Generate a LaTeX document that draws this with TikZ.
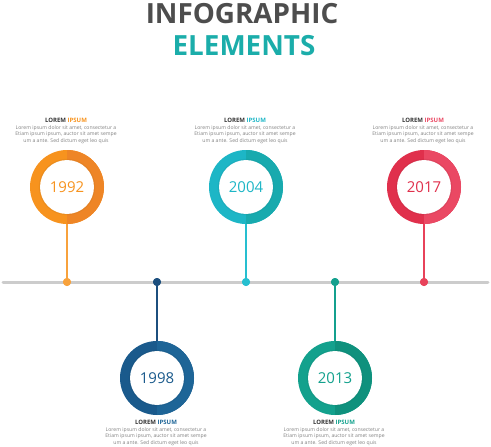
\documentclass[tikz,border=0pt]{standalone}
\usepackage{fontspec}
\setmainfont{Open Sans}
\begin{document}
\begin{tikzpicture}[x=1pt,y=-1pt,
  body/.style={align=center,text=black!50,font=\fontsize{5.1}{6.6}\selectfont,inner sep=0pt},
  head/.style={font=\bfseries\fontsize{6}{7}\selectfont,text=black!80,inner sep=0pt},
  dotn/.style={circle,inner sep=0pt,minimum size=8pt},
  stem/.style={line width=1.8pt},
  ringbase/.style={circle,inner sep=0pt,minimum size=74pt},
  inner/.style={circle,fill=white,inner sep=0pt,minimum size=54pt,font=\fontsize{15}{15}\selectfont}
]
\definecolor{orL}{HTML}{F7931E}\definecolor{orR}{HTML}{EE8526}\definecolor{orD}{HTML}{F8A23C}
\definecolor{blL}{HTML}{1A5A8C}\definecolor{blR}{HTML}{1E6597}\definecolor{blD}{HTML}{1C4F7E}
\definecolor{tqL}{HTML}{1DB6C6}\definecolor{tqR}{HTML}{18AAAE}\definecolor{tqD}{HTML}{26BFD0}
\definecolor{grL}{HTML}{13A18D}\definecolor{grR}{HTML}{0F917D}\definecolor{grD}{HTML}{14A08E}
\definecolor{rdL}{HTML}{E0304C}\definecolor{rdR}{HTML}{EA4863}\definecolor{rdD}{HTML}{E8425A}
\definecolor{ttl}{HTML}{4D4D4D}\definecolor{ttl2}{HTML}{1BADAA}
\useasboundingbox (0,0) rectangle (491,447);
% title
\node[font=\bfseries\fontsize{27.8}{27.8}\selectfont,text=ttl,inner sep=0pt] (t1) at (242,13.5) {INFOGRAPHIC};
\node[font=\bfseries\fontsize{27.8}{27.8}\selectfont,text=ttl2,inner sep=0pt] (t2) at (244,46) {ELEMENTS};
% timeline
\coordinate (la) at (3,282);
\coordinate (lb) at (488,282);
\draw[line width=3pt,black!20,line cap=round] (la) -- (lb);
% ring macro
\newcommand\myring[7]{%
  \node[ringbase,fill=#4] (#1) at (#2,#3) {};
  \fill[#5] (#2,#3) ++(0,37) arc[start angle=90,end angle=-90,radius=37] -- cycle;
  \node[inner,text=#4] (#1y) at (#2,#3) {#6};
  \draw[#4!70!black,opacity=0.15,line width=1.2pt] (#1y.center) circle[radius=27.6];
  \node[dotn,fill=#7] (#1d) at (#2,282) {};
}
\myring{a}{67}{187}{orL}{orR}{1992}{orD}
\myring{b}{157}{378}{blL}{blR}{1998}{blD}
\myring{c}{246}{187}{tqL}{tqR}{2004}{tqD}
\myring{d}{335}{378}{grL}{grR}{2013}{grD}
\myring{e}{424}{187}{rdL}{rdR}{2017}{rdD}
\draw[stem,orD] (ad.center) -- (a.south);
\draw[stem,blD] (bd.center) -- (b.north);
\draw[stem,tqD] (cd.center) -- (c.south);
\draw[stem,grD] (dd.center) -- (d.north);
\draw[stem,rdD] (ed.center) -- (e.south);
\node[dotn,fill=orD] at (ad) {};
\node[dotn,fill=blD] at (bd) {};
\node[dotn,fill=tqD] at (cd) {};
\node[dotn,fill=grD] at (dd) {};
\node[dotn,fill=rdD] at (ed) {};
% texts
\newcommand\mytext[5]{%
  \node[head] (#1h) at (#2,#3) {LOREM \textcolor{#5}{IPSUM}};
  \node[body,anchor=north] (#1b) at (#2,#4) {Lorem ipsum dolor sit amet, consectetur a\\Etiam ipsum ipsum, auctor sit amet sempe\\um a ante. Sed dictum eget leo quis};
}
\mytext{a}{66}{120}{125}{orL}
\mytext{c}{245}{120}{125}{tqL}
\mytext{e}{423}{120}{125}{rdR}
\mytext{b}{156}{422}{427}{blR}
\mytext{d}{334}{422}{427}{grL}
\end{tikzpicture}
\end{document}
